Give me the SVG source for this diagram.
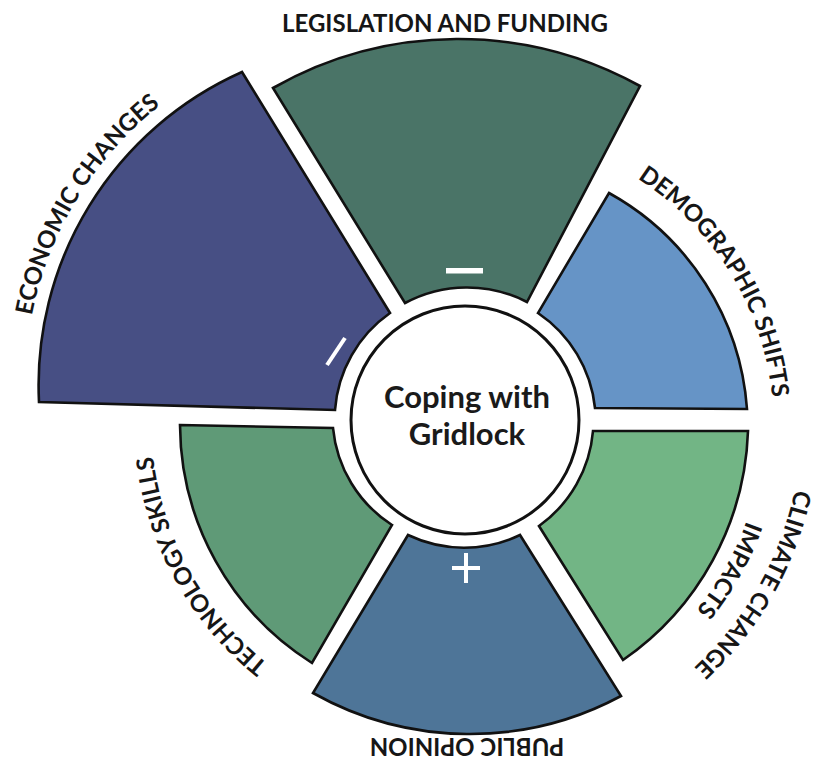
<svg xmlns="http://www.w3.org/2000/svg" width="814" height="762" viewBox="0 0 814 762">
<style>
.w{stroke:#111;stroke-width:2.6;stroke-linejoin:miter}
.lbl{font-family:Lato,"Open Sans","Liberation Sans",sans-serif;font-weight:700;font-size:24px;fill:#161616}
.ctr{font-family:Lato,"Open Sans","Liberation Sans",sans-serif;font-weight:700;font-size:31px;fill:#1a1a1a}
.sign{stroke:#fff;stroke-width:4;fill:none}
</style>
<defs>
<path id="pEco" d="M25,385 A357,357 0 0 1 320,33.4"/>
<path id="pDem" d="M529.4,136.5 A296,296 0 0 1 756.1,529.2"/>
<path id="pCli1" d="M796.87,361.30 A338,338 0 0 1 579.60,737.62"/>
<path id="pCli2" d="M759.43,367.90 A300,300 0 0 1 566.61,701.91"/>
<path id="pTec" d="M409.65,728.24 A313,313 0 0 1 169.87,312.95"/>
</defs>
<rect width="814" height="762" fill="#fff"/>
<g id="legislation">
<path class="w" fill="#4a7467" d="M273,88 A375,375 0 0 1 640,86 L527,302 A131,131 0 0 0 405,303 Z"/>
<rect x="446" y="268" width="37" height="5.5" fill="#fff"/>
<text class="lbl" x="445" y="32" text-anchor="middle">LEGISLATION AND FUNDING</text>
</g>
<g id="economic">
<path class="w" fill="#474f84" d="M242,72 A343,343 0 0 0 39,402 L335,410 A130,130 0 0 1 390,313 Z"/>
<line class="sign" x1="345" y1="338" x2="327" y2="365"/>
<text class="lbl"><textPath href="#pEco" startOffset="195.7" text-anchor="middle">ECONOMIC CHANGES</textPath></text>
</g>
<g id="demographic">
<path class="w" fill="#6694c6" d="M609,193 A269,269 0 0 1 747,409 L595,408 A131,131 0 0 0 538,313 Z"/>
<text class="lbl"><textPath href="#pDem" startOffset="249.5" text-anchor="middle">DEMOGRAPHIC SHIFTS</textPath></text>
</g>
<g id="climate">
<path class="w" fill="#72b585" d="M748,431 A290,290 0 0 1 623,660 L539,526 A130,130 0 0 0 593,431 Z"/>
<text class="lbl"><textPath href="#pCli1" startOffset="233.0" text-anchor="middle">CLIMATE CHANGE</textPath></text>
<text class="lbl"><textPath href="#pCli2" startOffset="206.8" text-anchor="middle">IMPACTS</textPath></text>
</g>
<g id="public-opinion">
<path class="w" fill="#4e7598" d="M621,696 A320,320 0 0 1 313,693 L408,535 A130,130 0 0 0 520,535 Z"/>
<path class="sign" stroke-width="3.5" d="M452,568 H480 M466,553 V583"/>
<text class="lbl" x="467" y="754" text-anchor="middle" transform="rotate(180 467 746)">PUBLIC OPINION</text>
</g>
<g id="technology">
<path class="w" fill="#5f9a77" d="M180,425 L333,428 A130,130 0 0 0 392,525 L312,663 A283,283 0 0 1 180,425 Z"/>
<text class="lbl"><textPath href="#pTec" startOffset="278.6" text-anchor="middle">TECHNOLOGY SKILLS</textPath></text>
</g>
<g id="center">
<circle cx="465" cy="420" r="114" fill="#fff" stroke="#111" stroke-width="3"/>
<text class="ctr" x="467" y="408" text-anchor="middle">Coping with</text>
<text class="ctr" x="467" y="445" text-anchor="middle">Gridlock</text>
</g>
<g id="connectors"/>
</svg>
